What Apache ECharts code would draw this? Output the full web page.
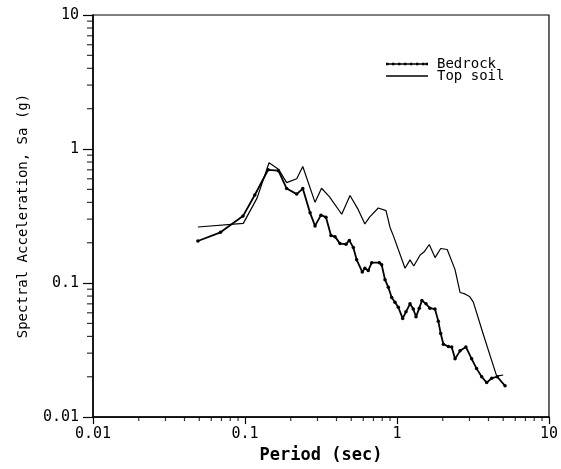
<!DOCTYPE html>
<html>
<head>
<meta charset="utf-8">
<script src="https://cdn.jsdelivr.net/npm/echarts@6/dist/echarts.min.js"></script>
<style>
  html, body { margin: 0; padding: 0; background: #fff; }
  #chart { width: 561px; height: 469px; }
</style>
</head>
<body>
<div id="chart"></div>
<script>
// periods (sec) and spectral acceleration (g)
const bedrockPeriod = [0.049, 0.069, 0.097, 0.116, 0.142, 0.166, 0.188, 0.219, 0.240, 0.268,
  0.289, 0.316, 0.341, 0.368, 0.391, 0.422, 0.462, 0.486, 0.516, 0.543,
  0.591, 0.615, 0.647, 0.682, 0.765, 0.793, 0.834, 0.877, 0.923, 0.970,
  1.02, 1.09, 1.146, 1.218, 1.28, 1.334, 1.402, 1.459, 1.552, 1.648,
  1.778, 1.87, 1.94, 2.02, 2.18, 2.29, 2.41, 2.6, 2.84, 3.10,
  3.34, 3.61, 3.89, 4.2, 4.57, 5.14];
const bedrockSa = [0.206, 0.239, 0.316, 0.454, 0.700, 0.689, 0.507, 0.461, 0.507, 0.334,
  0.267, 0.321, 0.310, 0.226, 0.222, 0.197, 0.195, 0.208, 0.184, 0.149,
  0.121, 0.129, 0.124, 0.142, 0.142, 0.137, 0.106, 0.093, 0.078, 0.072,
  0.066, 0.0545, 0.061, 0.070, 0.064, 0.056, 0.065, 0.074, 0.070, 0.065,
  0.064, 0.052, 0.042, 0.035, 0.0336, 0.0334, 0.0272, 0.0312, 0.0334, 0.0272,
  0.023, 0.020, 0.0181, 0.0195, 0.020, 0.0171];

const soilPeriod = [0.049, 0.0975, 0.12, 0.144, 0.166, 0.188, 0.219, 0.240, 0.289, 0.319,
  0.36, 0.433, 0.491, 0.556, 0.615, 0.66, 0.753, 0.847, 0.9, 0.946,
  1.13, 1.218, 1.29, 1.42, 1.51, 1.63, 1.78, 1.94, 2.14, 2.41,
  2.6, 2.8, 3.0, 3.18, 3.70, 4.2, 4.53, 5.0];
const soilSa = [0.262, 0.279, 0.43, 0.79, 0.708, 0.561, 0.600, 0.740, 0.40, 0.51,
  0.44, 0.326, 0.45, 0.353, 0.276, 0.31, 0.363, 0.347, 0.26, 0.226,
  0.129, 0.149, 0.134, 0.162, 0.171, 0.194, 0.155, 0.181, 0.178, 0.126,
  0.0851, 0.083, 0.0795, 0.0721, 0.0413, 0.0264, 0.0202, 0.0206];

const decades = [0.01, 0.1, 1];
const minorSteps = [2, 3, 4, 5, 6, 7, 8, 9];

const minorVals = [];
decades.forEach(d => minorSteps.forEach(m => minorVals.push(+(d * m).toPrecision(3))));

const font = '"DejaVu Sans Mono", "Liberation Mono", monospace';
const chart = echarts.init(document.getElementById('chart'));

const zip = (xs, ys) => xs.map((x, i) => [x, ys[i]]);
const fmt = v => String(+(+v).toPrecision(3));

// legend icons: dotted line for bedrock, plain line for top soil
const dotIcon = 'path://M0,1.9h42v1.4h-42z'
  + [0, 6, 12, 18, 24, 30, 36, 39.6].map(x => 'M' + x + ',1.4h2.4v2.4h-2.4z').join('');
const lineIcon = 'path://M0,0h42v1.3h-42z';

chart.setOption({
  backgroundColor: '#fff',
  animation: false,
  grid: {
    left: 93, right: 12, top: 15, bottom: 41,
    show: true, borderColor: '#000', borderWidth: 1.2
  },
  legend: {
    left: 381, top: 52, orient: 'vertical',
    itemWidth: 42, itemHeight: 6, itemGap: -2,
    data: [
      { name: 'Bedrock', icon: dotIcon },
      { name: 'Top soil', icon: lineIcon }
    ],
    textStyle: { fontFamily: font, fontSize: 14, lineHeight: 12, color: '#000', padding: [0, 0, 0, 4] }
  },
  xAxis: {
    type: 'log', logBase: 10, min: 0.01, max: 10,
    name: 'Period (sec)', nameLocation: 'middle', nameGap: 26,
    nameTextStyle: { fontFamily: font, fontSize: 17, fontWeight: 'bold', color: '#000' },
    axisLine: { lineStyle: { color: '#000', width: 1.5 } },
    axisTick: { inside: false, length: 7, lineStyle: { color: '#000', width: 1.2 } },
    axisLabel: { margin: 10, fontFamily: font, fontSize: 15, color: '#000', formatter: fmt },
    splitLine: { show: false }
  },
  yAxis: {
    type: 'log', logBase: 10, min: 0.01, max: 10,
    name: 'Spectral Acceleration, Sa (g)', nameLocation: 'middle', nameGap: 63,
    nameTextStyle: { fontFamily: font, fontSize: 14, color: '#000' },
    axisLine: { lineStyle: { color: '#000', width: 1.5 } },
    axisTick: { inside: false, length: 10, lineStyle: { color: '#000', width: 1.2 } },
    axisLabel: { margin: 14, fontFamily: font, fontSize: 15, color: '#000', formatter: fmt },
    splitLine: { show: false }
  },
  series: [
    {
      name: 'Bedrock', type: 'line',
      data: zip(bedrockPeriod, bedrockSa),
      symbol: 'circle', symbolSize: 3.5, showSymbol: true,
      lineStyle: { color: '#000', width: 1.8 },
      itemStyle: { color: '#000' }
    },
    {
      name: 'Top soil', type: 'line',
      data: zip(soilPeriod, soilSa),
      symbol: 'none',
      lineStyle: { color: '#000', width: 1.2 },
      itemStyle: { color: '#000' }
    },
    {
      // minor ticks on the period axis
      type: 'scatter', silent: true, clip: false,
      data: minorVals.map(v => [v, 0.01]),
      symbol: 'rect', symbolSize: [1.2, 4], symbolOffset: [0, 2],
      itemStyle: { color: '#000' }
    },
    {
      // minor ticks on the Sa axis
      type: 'scatter', silent: true, clip: false,
      data: minorVals.map(v => [0.01, v]),
      symbol: 'rect', symbolSize: [6, 1.2], symbolOffset: [-3, 0],
      itemStyle: { color: '#000' }
    }
  ]
});
</script>
</body>
</html>
